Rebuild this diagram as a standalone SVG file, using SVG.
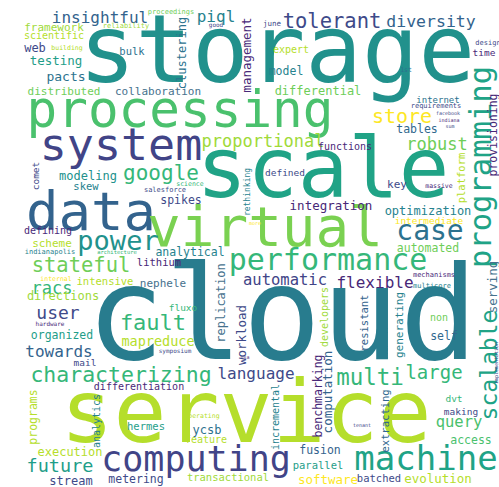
<svg xmlns="http://www.w3.org/2000/svg" width="499" height="487" viewBox="0 0 499 487">
<style>
text{font-family:"DejaVu Sans Mono","Liberation Mono",monospace;text-anchor:middle}
.a{fill:#440154}.b{fill:#482878}.c{fill:#3e4a89}.d{fill:#31688e}.e{fill:#26828e}
.f{fill:#1f9e89}.g{fill:#35b779}.h{fill:#6ece58}.i{fill:#b5de2b}.j{fill:#fde725}
.k{fill:#21918c}.l{fill:#4ac16d}.m{fill:#414487}.n{fill:#20a386}.o{fill:#33638d}
.p{fill:#7ad151}.q{fill:#287c8e}.r{fill:#a0da39}.s{fill:#46718d}.t{fill:#2c728e}
</style>
<rect width="499" height="487" fill="#fff"/>
<g id="words">
<!-- large words -->
<text class="k" x="277" y="82" font-size="94">storage</text>
<text class="l" x="180" y="127" font-size="51">processing</text>
<text class="m" x="121" y="160" font-size="45">system</text>
<text class="n" x="323" y="197" font-size="84">scale</text>
<text class="o" x="91" y="230" font-size="54">data</text>
<text class="p" x="265" y="246" font-size="56">virtual</text>
<text class="q" x="282" y="359" font-size="130">cloud</text>
<text class="i" x="246" y="442" font-size="88">service</text>
<!-- medium words -->
<text class="g" x="328" y="270" font-size="30">performance</text>
<text class="m" x="285" y="285" font-size="15.5">automatic</text>
<text class="t" x="430" y="240" font-size="28">case</text>
<text class="b" x="375" y="288" font-size="16">flexible</text>
<text class="k" x="118" y="250" font-size="27">power</text>
<text class="h" x="81" y="272" font-size="20.5">stateful</text>
<text class="g" x="161" y="180" font-size="21">google</text>
<text class="g" x="153" y="330" font-size="22">fault</text>
<text class="g" x="121" y="382" font-size="21.5">characterizing</text>
<text class="m" x="196" y="471" font-size="35">computing</text>
<text class="n" x="426" y="470" font-size="34">machine</text>
<text class="g" x="370" y="385" font-size="22.5">multi</text>
<text class="g" x="434" y="379" font-size="19">large</text>
<text class="l" x="459" y="427" font-size="15.5">query</text>
<text class="c" x="332" y="28" font-size="20.5">tolerant</text>
<text class="o" x="431" y="27" font-size="16.5">diversity</text>
<text class="o" x="100" y="23" font-size="16">insightful</text>
<text class="j" x="402" y="123" font-size="20">store</text>
<text class="h" x="437" y="150" font-size="17">robust</text>
<text class="r" x="263" y="147" font-size="17">proportional</text>
<text class="c" x="58" y="319" font-size="18">user</text>
<text class="g" x="52" y="294" font-size="17">racs</text>
<text class="o" x="59" y="357" font-size="16">towards</text>
<text class="f" x="60" y="472" font-size="18.5">future</text>
<text class="c" x="256" y="379" font-size="16">language</text>
<text class="e" x="216" y="22" font-size="16">piql</text>
<!-- small words -->
<text class="r" x="54" y="31" font-size="11">framework</text>
<text class="i" x="54" y="39" font-size="10">scientific</text>
<text class="c" x="35" y="52" font-size="12">web</text>
<text class="f" x="56" y="65" font-size="12.5">testing</text>
<text class="t" x="66" y="81" font-size="13">pacts</text>
<text class="h" x="64" y="95" font-size="11">distributed</text>
<text class="s" x="158" y="95" font-size="11">collaboration</text>
<text class="t" x="132" y="55" font-size="10.5">bulk</text>
<text class="i" x="67" y="50" font-size="6.5">building</text>
<text class="r" x="126" y="28" font-size="7">reliability</text>
<text class="h" x="171" y="14" font-size="7">proceedings</text>
<text class="c" x="216" y="27" font-size="6">good</text>
<text class="c" x="272" y="26" font-size="7.5">june</text>
<text class="i" x="291" y="53" font-size="10">expert</text>
<text class="e" x="286" y="75" font-size="11.5">model</text>
<text class="h" x="318" y="95" font-size="12">differential</text>
<text class="b" x="345" y="150" font-size="10">functions</text>
<text class="c" x="488" y="45" font-size="7">design</text>
<text class="b" x="484" y="56" font-size="9.5">time</text>
<text class="t" x="406" y="72" font-size="6.5">1st</text>
<text class="t" x="438" y="103" font-size="9">internet</text>
<text class="c" x="436" y="108" font-size="7">requirements</text>
<text class="c" x="448" y="115" font-size="5">facebook</text>
<text class="b" x="449" y="122" font-size="5">indiana</text>
<text class="c" x="450" y="128" font-size="5">sum</text>
<text class="d" x="417" y="133" font-size="11.5">tables</text>
<text class="k" x="88" y="180" font-size="12">modeling</text>
<text class="e" x="86" y="190" font-size="10.5">skew</text>
<text class="c" x="165" y="192" font-size="7">salesforce</text>
<text class="g" x="190" y="186" font-size="6.5">science</text>
<text class="c" x="181" y="204" font-size="11.5">spikes</text>
<text class="b" x="48" y="234" font-size="10">defining</text>
<text class="i" x="52" y="247" font-size="11">scheme</text>
<text class="e" x="50" y="254" font-size="7">indianapolis</text>
<text class="g" x="117" y="254" font-size="5.5">architecture</text>
<text class="e" x="190" y="256" font-size="11.5">analytical</text>
<text class="b" x="159" y="266" font-size="10.5">lithium</text>
<text class="j" x="56" y="281" font-size="6.5">internal</text>
<text class="i" x="105" y="285" font-size="10.5">intensive</text>
<text class="s" x="163" y="287" font-size="11">nephele</text>
<text class="r" x="63" y="300" font-size="12">directions</text>
<text class="b" x="50" y="326" font-size="6">hardware</text>
<text class="c" x="285" y="176" font-size="9.5">defined</text>
<text class="b" x="331" y="210" font-size="12.5">integration</text>
<text class="j" x="255" y="225" font-size="5">more</text>
<text class="g" x="183" y="311" font-size="9.5">fluxo</text>
<text class="c" x="397" y="188" font-size="11">key</text>
<text class="b" x="439" y="188" font-size="6.5">massive</text>
<text class="e" x="428" y="215" font-size="12">optimization</text>
<text class="j" x="429" y="224" font-size="9.5">intermediate</text>
<text class="h" x="428" y="252" font-size="11.5">automated</text>
<text class="b" x="434" y="277" font-size="7">mechanisms</text>
<text class="e" x="432" y="288" font-size="7">multicore</text>
<text class="h" x="439" y="321" font-size="10">non</text>
<text class="d" x="444" y="340" font-size="11.5">self</text>
<text class="f" x="62" y="339" font-size="11.5">organized</text>
<text class="i" x="158" y="346" font-size="13.5">mapreduce</text>
<text class="c" x="175" y="353" font-size="6">symposium</text>
<text class="c" x="85" y="366" font-size="9.5">mail</text>
<text class="b" x="139" y="390" font-size="10">differentiation</text>
<text class="f" x="146" y="430" font-size="10.5">hermes</text>
<text class="i" x="70" y="456" font-size="12">execution</text>
<text class="c" x="71" y="485" font-size="12">stream</text>
<text class="c" x="136" y="483" font-size="11.5">metering</text>
<text class="b" x="245" y="359" font-size="5">usa</text>
<text class="i" x="202" y="418" font-size="6.5">operating</text>
<text class="t" x="207" y="434" font-size="12">ycsb</text>
<text class="i" x="206" y="443" font-size="10">feature</text>
<text class="o" x="320" y="454" font-size="11.5">fusion</text>
<text class="f" x="318" y="469" font-size="10.5">parallel</text>
<text class="r" x="228" y="481" font-size="10.5">transactional</text>
<text class="j" x="328" y="484" font-size="12.5">software</text>
<text class="g" x="454" y="402" font-size="9.5">dvt</text>
<text class="c" x="461" y="415" font-size="9.5">making</text>
<text class="c" x="362" y="427" font-size="5">tenant</text>
<text class="l" x="471" y="444" font-size="11.5">access</text>
<text class="c" x="379" y="482" font-size="10.5">batched</text>
<text class="i" x="438" y="483" font-size="12.5">evolution</text>
<!-- vertical words, reading upward -->
<text class="c" font-size="9.5" transform="translate(39,176) rotate(-90)">comet</text>
<text class="t" font-size="12" transform="translate(186,53) rotate(-90)">clustering</text>
<text class="b" font-size="12.5" transform="translate(251,55) rotate(-90)">management</text>
<text class="n" font-size="30.5" transform="translate(491,167) rotate(-90)">programming</text>
<text class="b" font-size="11.5" transform="translate(497,135) rotate(-90)">provisioning</text>
<text class="i" font-size="10.5" transform="translate(465,178) rotate(-90)">platform</text>
<text class="e" font-size="8" transform="translate(250,192) rotate(-90)">rethinking</text>
<text class="s" font-size="12" transform="translate(225,303) rotate(-90)">replication</text>
<text class="c" font-size="12.5" transform="translate(246,335) rotate(-90)">workload</text>
<text class="r" font-size="10" transform="translate(328,317) rotate(-90)">developers</text>
<text class="o" font-size="10.5" transform="translate(368,323) rotate(-90)">resistant</text>
<text class="e" font-size="11" transform="translate(403,325) rotate(-90)">generating</text>
<text class="s" font-size="12.5" transform="translate(497,287) rotate(-90)">serving</text>
<text class="n" font-size="23" transform="translate(497,365) rotate(-90)">scalable</text>
<text class="c" font-size="5" transform="translate(498,363) rotate(-90)">implementation</text>
<text class="b" font-size="11.5" transform="translate(322,396) rotate(-90)">benchmarking</text>
<text class="o" font-size="12.5" transform="translate(332,392) rotate(-90)">computation</text>
<text class="e" font-size="10" transform="translate(279,417) rotate(-90)">incremental</text>
<text class="d" font-size="10.5" transform="translate(389,421) rotate(-90)">extracting</text>
<text class="i" font-size="11.5" transform="translate(37,417) rotate(-90)">programs</text>
<text class="e" font-size="10" transform="translate(100,421) rotate(-90)">analytics</text>
</g>
</svg>
